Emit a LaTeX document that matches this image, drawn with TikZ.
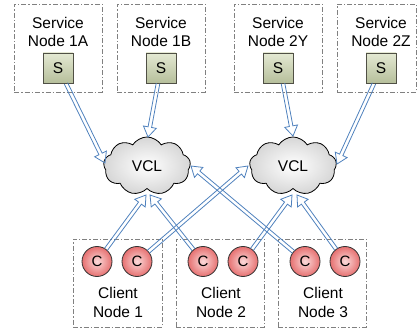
\documentclass[tikz,border=0pt]{standalone}
\usepackage{fontspec}
\setmainfont{Liberation Sans}
\usetikzlibrary{shapes.symbols,calc}
\definecolor{arrblue}{HTML}{4F81BD}
\definecolor{sboxtop}{HTML}{E4E9D3}
\definecolor{sboxbot}{HTML}{B6BF9B}
\definecolor{sboxline}{HTML}{505045}
\definecolor{cin}{HTML}{FBDADA}
\definecolor{cout}{HTML}{E67070}
\newcommand{\blockarrow}[2]{%
  \draw[barrow] let \p1=(#1), \p2=(#2),
    \n1={atan2(\y2-\y1,\x2-\x1)}, \n2={veclen(\x2-\x1,\y2-\y1)-10} in
    ($(\p1)+(\n1+90:1.8)$) -- ($(\p1)+(\n1:\n2)+(\n1+90:1.8)$)
    -- ($(\p1)+(\n1:\n2)+(\n1+90:6.5)$) -- (\p2)
    -- ($(\p1)+(\n1:\n2)+(\n1-90:6.5)$) -- ($(\p1)+(\n1:\n2)+(\n1-90:1.8)$)
    -- ($(\p1)+(\n1-90:1.8)$);}
\begin{document}
\begin{tikzpicture}[x=1pt,y=1pt,
  grp/.style={draw=black!50, line width=0.8pt, dash pattern=on 5pt off 2pt on 1.5pt off 2pt, inner sep=0},
  lbl/.style={align=center, font=\fontsize{15.5}{18.6}\selectfont, inner sep=0},
  sbox/.style={draw=sboxline, line width=0.9pt, top color=sboxtop, bottom color=sboxbot, minimum size=30pt, inner sep=0, font=\fontsize{15.5}{18}\selectfont},
  cnode/.style={circle, draw=black!80, line width=0.8pt, inner color=cin, outer color=cout, minimum size=30pt, inner sep=0, font=\fontsize{15}{18}\selectfont},
  vcl/.style={cloud, cloud puffs=9, cloud puff arc=115, aspect=1.55, draw=black, line width=0.8pt, inner color=white, outer color=black!16, minimum width=87pt, minimum height=58pt, inner sep=0, font=\fontsize{15.5}{18}\selectfont},
  barrow/.style={draw=arrblue, line width=0.8pt, line join=miter}
]
\useasboundingbox (0,0) rectangle (417,-328);
% service groups
\node[grp, minimum width=88pt, minimum height=88pt] (g1A) at (58,-48) {};
\node[grp, minimum width=88pt, minimum height=88pt] (g1B) at (161,-48) {};
\node[grp, minimum width=88pt, minimum height=88pt] (g2Y) at (278,-48) {};
\node[grp, minimum width=79pt, minimum height=88pt] (g2Z) at (376.5,-48) {};
\node[lbl] (l1A) at (58,-32) {Service\\Node 1A};
\node[lbl] (l1B) at (161,-32) {Service\\Node 1B};
\node[lbl] (l2Y) at (278,-32) {Service\\Node 2Y};
\node[lbl] (l2Z) at (381,-32) {Service\\Node 2Z};
\node[sbox] (s1A) at (58,-68) {S};
\node[sbox] (s1B) at (161,-68) {S};
\node[sbox] (s2Y) at (278,-68) {S};
\node[sbox] (s2Z) at (381,-68) {S};
% client groups
\node[grp, minimum width=89pt, minimum height=88pt] (k1) at (117.5,-283) {};
\node[grp, minimum width=88pt, minimum height=88pt] (k2) at (220,-283) {};
\node[grp, minimum width=88pt, minimum height=88pt] (k3) at (322,-283) {};
\node[lbl] (m1) at (118,-302.5) {Client\\Node 1};
\node[lbl] (m2) at (221,-302.5) {Client\\Node 2};
\node[lbl] (m3) at (323,-302.5) {Client\\Node 3};
\node[cnode] (c1a) at (97,-261.5) {C};
\node[cnode] (c1b) at (137,-261.5) {C};
\node[cnode] (c2a) at (203,-261.5) {C};
\node[cnode] (c2b) at (243,-261.5) {C};
\node[cnode] (c3a) at (305,-261.5) {C};
\node[cnode] (c3b) at (345,-261.5) {C};
% clouds
\node[vcl] (v1) at (147,-166) {VCL};
\node[vcl] (v2) at (293,-166) {VCL};
% arrow end points
\coordinate (t1) at (105,-163);
\coordinate (t2) at (148,-137);
\coordinate (t3) at (293,-136);
\coordinate (t4) at (337,-164);
\coordinate (t5) at (146,-195);
\coordinate (t6) at (248,-166);
\coordinate (t7) at (150,-195);
\coordinate (t8) at (292,-195);
\coordinate (t9) at (191,-166);
\coordinate (t10) at (297,-195);
% arrow start points
\coordinate (a1) at ($(s1A.south)+(8,0)$);
\coordinate (a2) at ($(s1B.south)+(-3,0)$);
\coordinate (a3) at ($(s2Y.south)+(5,0)$);
\coordinate (a4) at ($(s2Z.south)+(-7,0)$);
\coordinate (a5) at ($(c1a)!15pt!(t5)$);
\coordinate (a6) at ($(c1b)!15pt!(t6)$);
\coordinate (a7) at ($(c2a)!15pt!(t7)$);
\coordinate (a8) at ($(c2b)!15pt!(t8)$);
\coordinate (a9) at ($(c3a)!15pt!(t9)$);
\coordinate (a10) at ($(c3b)!15pt!(t10)$);
\blockarrow{a1}{t1}
\blockarrow{a2}{t2}
\blockarrow{a3}{t3}
\blockarrow{a4}{t4}
\blockarrow{a5}{t5}
\blockarrow{a6}{t6}
\blockarrow{a7}{t7}
\blockarrow{a8}{t8}
\blockarrow{a9}{t9}
\blockarrow{a10}{t10}
\end{tikzpicture}
\end{document}
